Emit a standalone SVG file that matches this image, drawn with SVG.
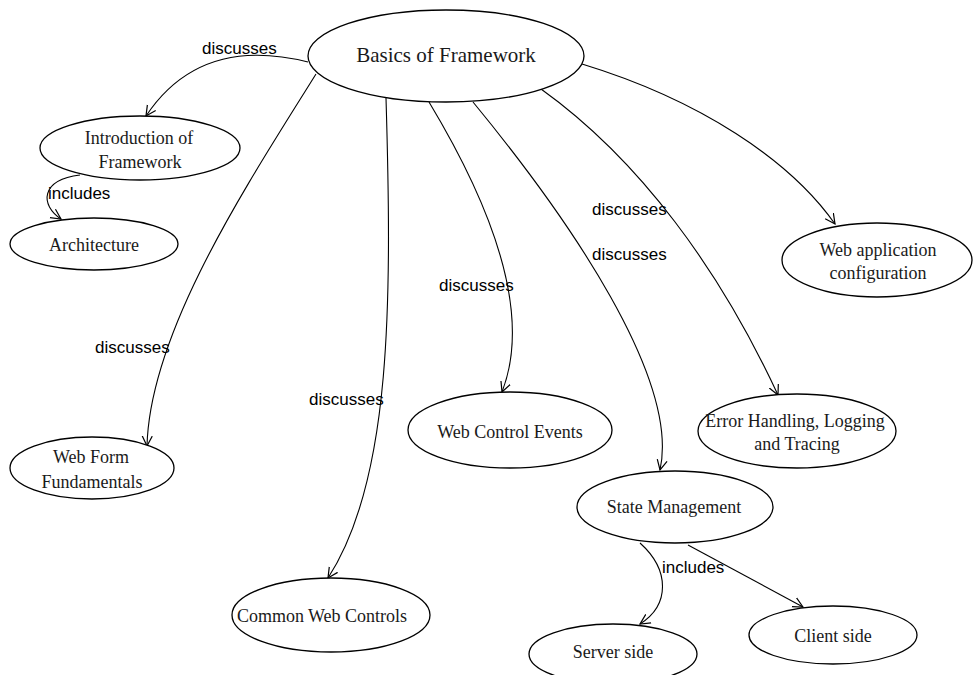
<svg xmlns="http://www.w3.org/2000/svg" width="973" height="675" viewBox="0 0 973 675">
<style>
.n{fill:#fff;stroke:#000;stroke-width:1.3}
.t{font-family:"Liberation Serif","Times New Roman",serif;font-size:18px;fill:#1a1a1a;text-anchor:middle}
.m{font-size:21px}
.e{fill:none;stroke:#000;stroke-width:1.1;marker-end:url(#a)}
.l{font-family:"Liberation Sans",Arial,sans-serif;font-size:17px;fill:#000}
</style>
<defs>
<marker id="a" markerUnits="userSpaceOnUse" markerWidth="12" markerHeight="12" refX="10" refY="5" orient="auto" viewBox="0 0 12 10">
<path d="M0,0 L10,5 L0,10" fill="none" stroke="#000" stroke-width="1.2"/>
</marker>
</defs>
<g id="connectors">
<path class="e" d="M308,62 Q200,35 146,116"/>
<path class="e" d="M80,175 C40,180 40,205 61,219"/>
<path class="e" d="M316,74 C250,180 150,330 147,446"/>
<path class="e" d="M386,98 C392,300 392,480 328,578"/>
<path class="e" d="M429,102 C500,220 530,320 502,392"/>
<path class="e" d="M473,102 C570,220 680,380 660,470"/>
<path class="e" d="M541,89 C640,160 720,270 778,395"/>
<path class="e" d="M582,64 C700,100 790,160 835,224"/>
<path class="e" d="M640,543 C670,570 670,605 640,624"/>
<path class="e" d="M688,545 L803,607"/>
<text class="l" x="202" y="54">discusses</text>
<text class="l" x="48" y="199">includes</text>
<text class="l" x="95" y="353">discusses</text>
<text class="l" x="309" y="405">discusses</text>
<text class="l" x="439" y="291">discusses</text>
<text class="l" x="592" y="215">discusses</text>
<text class="l" x="592" y="260">discusses</text>
<text class="l" x="662" y="573">includes</text>
</g>
<g id="basics">
<ellipse class="n" cx="446" cy="56" rx="138" ry="46"/>
<text class="t m" x="446" y="62">Basics of Framework</text>
</g>
<g id="intro">
<ellipse class="n" cx="140" cy="148" rx="100" ry="32"/>
<text class="t" x="139" y="144">Introduction of</text>
<text class="t" x="140" y="168">Framework</text>
</g>
<g id="architecture">
<ellipse class="n" cx="94" cy="244" rx="84" ry="26"/>
<text class="t" x="94" y="251">Architecture</text>
</g>
<g id="webform">
<ellipse class="n" cx="92" cy="468" rx="82" ry="31"/>
<text class="t" x="91" y="463">Web Form</text>
<text class="t" x="92" y="488">Fundamentals</text>
</g>
<g id="common">
<ellipse class="n" cx="331" cy="615" rx="99" ry="37"/>
<text class="t" x="322" y="622">Common Web Controls</text>
</g>
<g id="events">
<ellipse class="n" cx="510" cy="430" rx="102" ry="38"/>
<text class="t" x="510" y="438">Web Control Events</text>
</g>
<g id="state">
<ellipse class="n" cx="675" cy="507" rx="98" ry="36"/>
<text class="t" x="674" y="513">State Management</text>
</g>
<g id="error">
<ellipse class="n" cx="797" cy="431" rx="99" ry="37"/>
<text class="t" x="795" y="427">Error Handling, Logging</text>
<text class="t" x="797" y="450">and Tracing</text>
</g>
<g id="webapp">
<ellipse class="n" cx="877" cy="260" rx="95" ry="37"/>
<text class="t" x="878" y="256">Web application</text>
<text class="t" x="878" y="279">configuration</text>
</g>
<g id="server">
<ellipse class="n" cx="613" cy="654" rx="84" ry="30"/>
<text class="t" x="613" y="658">Server side</text>
</g>
<g id="client">
<ellipse class="n" cx="833" cy="635" rx="84" ry="29"/>
<text class="t" x="833" y="642">Client side</text>
</g>
</svg>
